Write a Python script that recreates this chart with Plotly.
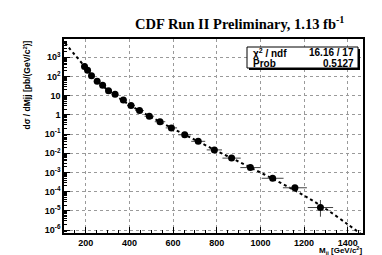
import plotly.graph_objects as go

# ---- data ----
mass = [194, 208, 226, 252, 277, 304, 334, 372, 407, 446, 491, 540, 592, 653, 715,
        789, 868, 954, 1056, 1158, 1275]
xsec = [325, 210, 110, 56, 35, 18, 11.7, 5.9, 3.1, 1.67, 0.85, 0.44, 0.21, 0.092, 0.042,
        0.015, 0.0056, 0.0018, 0.0005, 0.00016, 1.5e-5]
mass_halfwidth = [8, 9, 10, 11, 12, 13, 15, 16, 18, 20, 22, 24, 26, 29, 32,
                  35, 42, 46, 50, 55, 58]
err_up = [6, 4, 2, 1, 0.7, 0.36, 0.24, 0.12, 0.06, 0.035, 0.018, 0.01, 0.005, 0.0025, 0.0012,
          0.0005, 0.0002, 0.00008, 0.00003, 0.00003, 2.2e-5]
err_dn = [6, 4, 2, 1, 0.7, 0.36, 0.24, 0.12, 0.06, 0.035, 0.018, 0.01, 0.005, 0.0025, 0.0012,
          0.0005, 0.0002, 0.00008, 0.00003, 0.00003, 1.0e-5]

fit_mass = [104, 150, 200, 250, 300, 400, 500, 600, 700, 800, 900, 1000, 1100, 1200,
            1300, 1400, 1460]
fit_xsec = [5600, 1320, 282, 63, 20, 3.3, 0.76, 0.19, 0.05, 0.0132, 0.0037, 0.001,
            2.6e-4, 6.3e-5, 1.26e-5, 2.0e-6, 6.3e-7]

x_ticks = [200, 400, 600, 800, 1000, 1200, 1400]
y_tickvals = [1e3, 1e2, 10, 1, 1e-1, 1e-2, 1e-3, 1e-4, 1e-5, 1e-6]
y_ticktext = ["10<sup>3</sup>", "10<sup>2</sup>", "10", "1", "10<sup>-1</sup>",
              "10<sup>-2</sup>", "10<sup>-3</sup>", "10<sup>-4</sup>", "10<sup>-5</sup>",
              "10<sup>-6</sup>"]
chi2_text = "16.16 / 17"
prob_text = "0.5127"

# ---- figure ----
W, H = 382, 255
L, R, T, B = 56, 355, 31, 225

def px(xp):
    return (xp - L) / (R - L)

def py(yp):
    return (B - yp) / (B - T)

fig = go.Figure()

fig.add_trace(go.Scatter(
    x=fit_mass, y=fit_xsec, mode="lines",
    line=dict(color="black", width=2, dash="dot", shape="spline"),
    hoverinfo="skip", showlegend=False))

fig.add_trace(go.Scatter(
    x=mass, y=xsec, mode="markers",
    marker=dict(color="black", size=7, symbol="circle"),
    error_x=dict(type="data", array=mass_halfwidth, color="#444444", thickness=1, width=0),
    error_y=dict(type="data", array=err_up, arrayminus=err_dn, symmetric=False,
                 color="#444444", thickness=1, width=0),
    showlegend=False))

minor_y = []
for k in range(-7, 4):
    for m in range(2, 10):
        minor_y.append(m * 10 ** k)

axis_font = dict(family="Liberation Sans", size=9, color="black", weight="bold")

fig.update_xaxes(
    type="linear", range=[100, 1470],
    tickmode="array", tickvals=x_ticks, ticktext=[str(v) for v in x_ticks],
    ticks="inside", ticklen=6, tickwidth=1, tickcolor="black",
    minor=dict(ticks="inside", ticklen=3, tickmode="linear", tick0=100, dtick=50,
               tickcolor="black", showgrid=False),
    showline=True, linecolor="black", linewidth=1.5, mirror=True,
    showgrid=True, gridcolor="#9a9a9a", griddash="dot", gridwidth=1,
    tickfont=axis_font, zeroline=False, automargin=False)

fig.update_yaxes(
    type="log", range=[-6.15, 3.95],
    tickmode="array", tickvals=y_tickvals, ticktext=y_ticktext,
    ticks="inside", ticklen=6, tickwidth=1, tickcolor="black",
    minor=dict(ticks="inside", ticklen=3, tickmode="array", tickvals=minor_y,
               tickcolor="black", showgrid=False),
    showline=True, linecolor="black", linewidth=1.5, mirror=True,
    showgrid=True, gridcolor="#9a9a9a", griddash="dot", gridwidth=1,
    tickfont=axis_font, zeroline=False, automargin=False)

# stats box with shadow
bx0, bx1, by0, by1 = px(239), px(350), py(60), py(39)
fig.add_shape(type="rect", xref="paper", yref="paper",
              x0=bx0 + 2 / (R - L), x1=bx1 + 2 / (R - L),
              y0=by0 - 2 / (B - T), y1=by1 - 2 / (B - T),
              fillcolor="black", line=dict(width=0), layer="above")
fig.add_shape(type="rect", xref="paper", yref="paper",
              x0=bx0, x1=bx1, y0=by0, y1=by1,
              fillcolor="white", line=dict(color="black", width=1), layer="above")

box_font = dict(family="Liberation Sans", size=10, color="black", weight="bold")
fig.add_annotation(xref="paper", yref="paper", x=px(243), y=py(45),
                   text="χ<sup>2</sup> / ndf", showarrow=False,
                   xanchor="left", yanchor="middle", font=box_font)
fig.add_annotation(xref="paper", yref="paper", x=px(348), y=py(45),
                   text=chi2_text, showarrow=False,
                   xanchor="right", yanchor="middle", font=box_font)
fig.add_annotation(xref="paper", yref="paper", x=px(243), y=py(55),
                   text="Prob", showarrow=False,
                   xanchor="left", yanchor="middle", font=box_font)
fig.add_annotation(xref="paper", yref="paper", x=px(348), y=py(55),
                   text=prob_text, showarrow=False,
                   xanchor="right", yanchor="middle", font=box_font)

# title
fig.add_annotation(xref="paper", yref="paper", x=px(231), y=py(15),
                   text="CDF Run II Preliminary, 1.13 fb<sup>-1</sup>", showarrow=False,
                   xanchor="center", yanchor="middle",
                   font=dict(family="Liberation Serif", size=14.5, color="black", weight="bold"))

# axis titles
fig.add_annotation(xref="paper", yref="paper", x=px(356), y=py(242.5),
                   text="M<sub>jj</sub> [GeV/c<sup>2</sup>]", showarrow=False,
                   xanchor="right", yanchor="middle",
                   font=dict(family="Liberation Sans", size=8, color="black", weight="bold"))
fig.add_annotation(xref="paper", yref="paper", x=px(19), y=py(31),
                   text="dσ / dMjj [pb/(GeV/c<sup>2</sup>)]", showarrow=False,
                   textangle=-90, xanchor="center", yanchor="top",
                   font=dict(family="Liberation Sans", size=8.5, color="black", weight="bold"))

fig.update_layout(
    width=W, height=H,
    margin=dict(l=L, r=W - R, t=T, b=H - B),
    paper_bgcolor="white", plot_bgcolor="white",
    showlegend=False)

fig.write_html("out.html")
